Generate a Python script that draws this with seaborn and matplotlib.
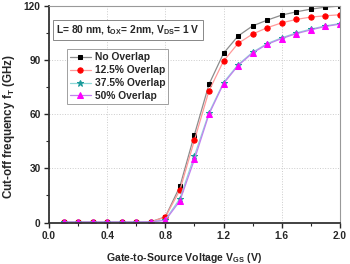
import matplotlib
matplotlib.use("Agg")
import matplotlib.pyplot as plt
import seaborn as sns
import numpy as np
from matplotlib.ticker import MultipleLocator, FormatStrFormatter

vgs = [0.1, 0.2, 0.3, 0.4, 0.5, 0.6, 0.7, 0.8, 0.9, 1.0, 1.1, 1.2, 1.3, 1.4, 1.5, 1.6, 1.7, 1.8, 1.9, 2.0]
no_overlap = [0.3, 0.3, 0.3, 0.3, 0.3, 0.3, 0.4, 3.2, 20, 48.7, 76.6, 93.8, 103.4, 109, 112.2, 115, 116.8, 118.3, 119.4, 120]
ov_12_5 = [0.3, 0.3, 0.3, 0.3, 0.3, 0.3, 0.4, 3.0, 18, 45.6, 73, 89.5, 99.3, 104.5, 108, 110.7, 112.6, 113.9, 114.6, 115.2]
ov_37_5 = [0.3, 0.3, 0.3, 0.3, 0.3, 0.3, 0.4, 1.5, 13.3, 37, 60.8, 77.6, 87.5, 94.4, 99.2, 102.4, 105.1, 107.2, 109, 110.3]
ov_50 = [0.3, 0.3, 0.3, 0.3, 0.3, 0.3, 0.4, 1.2, 12, 35, 60, 77, 87, 94, 98.8, 102, 104.7, 106.8, 108.7, 110]
labels = ["No Overlap", "12.5% Overlap", "37.5% Overlap", "50% Overlap"]

sns.set_style("white")
plt.rcParams['font.family'] = ['Liberation Sans', 'DejaVu Sans']
plt.rcParams['font.weight'] = 'bold'
plt.rcParams['mathtext.fontset'] = 'custom'
plt.rcParams['mathtext.rm'] = 'Liberation Sans:bold'
plt.rcParams['mathtext.it'] = 'Liberation Sans:bold'
plt.rcParams['mathtext.bf'] = 'Liberation Sans:bold'
plt.rcParams['mathtext.default'] = 'bf'

fig = plt.figure(figsize=(3.5, 2.64), dpi=100)
ax = fig.add_axes([0.14, 0.157, 0.831, 0.82])

series = [no_overlap, ov_12_5, ov_37_5, ov_50]
line_colors = ["#8c8c8c", "#ff9a9a", "#8fd8d8", "#c080ee"]
mk_colors = ["#000000", "#ff0000", "#1a9a9a", "#ff00ff"]
markers = ["s", "o", "*", "^"]
msizes = [3.5, 3.8, 4.8, 3.8]
for ys, lab, lc, mc, mk, ms in zip(series, labels, line_colors, mk_colors, markers, msizes):
    sns.lineplot(x=vgs, y=ys, ax=ax, color=lc, lw=0.9, marker=mk, markersize=ms,
                 markerfacecolor=mc, markeredgecolor=mc, label=lab)

ax.set_xlim(0, 2.0)
ax.set_ylim(0, 120)
ax.xaxis.set_major_locator(MultipleLocator(0.4))
ax.xaxis.set_minor_locator(MultipleLocator(0.2))
ax.yaxis.set_major_locator(MultipleLocator(30))
ax.yaxis.set_minor_locator(MultipleLocator(15))
ax.xaxis.set_major_formatter(FormatStrFormatter('%.1f'))
ax.yaxis.set_major_formatter(FormatStrFormatter('%d'))
ax.grid(True, which='major', color='#cccccc', ls=':', lw=0.7)
ax.tick_params(axis='both', which='major', direction='out', length=3.5, width=1, labelsize=7.3, pad=2.5,
               bottom=True, left=True)
ax.tick_params(axis='both', which='minor', direction='out', length=2, width=0.8, bottom=True, left=True)
for t in ax.get_xticklabels() + ax.get_yticklabels():
    t.set_fontweight('bold')
for s in ['left', 'bottom']:
    ax.spines[s].set_color('#333333')
    ax.spines[s].set_linewidth(1.3)
for s in ['top', 'right']:
    ax.spines[s].set_color('#999999')
    ax.spines[s].set_linewidth(0.8)

ax.set_xlabel("Gate-to-Source Voltage V$_{GS}$ (V)", fontsize=7.6, fontweight='bold')
ax.set_ylabel("Cut-off frequency f$_{T}$ (GHz)", fontsize=8.4, fontweight='bold')
ax.xaxis.set_label_coords(0.464, -0.13)
ax.yaxis.set_label_coords(-0.11, 0.444)

ax.text(0.025, 0.889, "L= 80 nm, t$_{OX}$= 2nm, V$_{DS}$= 1 V", transform=ax.transAxes,
        fontsize=7.4, fontweight='bold', va='center', ha='left',
        bbox=dict(boxstyle='square,pad=0.35', fc='white', ec='#888888', lw=0.7))

leg = ax.legend(loc='upper left', bbox_to_anchor=(0.062, 0.80), frameon=True, fancybox=False,
                fontsize=7.4, handlelength=2.0, handletextpad=0.4, borderpad=0.3, labelspacing=0.28,
                edgecolor='#888888', borderaxespad=0)
leg.get_frame().set_linewidth(0.7)
for t in leg.get_texts():
    t.set_fontweight('bold')

fig.savefig("out.png", dpi=100)
